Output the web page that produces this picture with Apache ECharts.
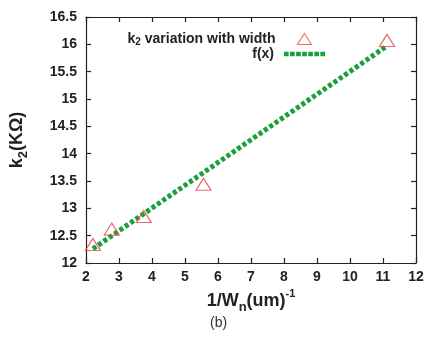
<!DOCTYPE html>
<html><head><meta charset="utf-8">
<script src="https://cdn.jsdelivr.net/npm/echarts@6/dist/echarts.min.js"></script>
<style>html,body{margin:0;padding:0;background:#fff}#c{width:434px;height:341px}</style>
</head><body><div id="c"></div>
<script>
const measX = [2.21, 2.78, 3.75, 5.56, 11.12];
const measY = [12.34, 12.62, 12.85, 13.44, 16.07];
const fitX = [2.21, 11.12];
const fitY = [12.26, 15.97];
const xTicks = [2,3,4,5,6,7,8,9,10,11,12];
const yTicks = [12,12.5,13,13.5,14,14.5,15,15.5,16,16.5];

const FONT = '"Liberation Sans", Arial, sans-serif';
const GREEN = '#17a138';
const RED = '#e8474a';
const chart = echarts.init(document.getElementById('c'));
const tickCommon = {
  axisLine: {show: true, lineStyle: {color: '#222', width: 1.2}},
  axisTick: {show: true, inside: true, length: 5, lineStyle: {color: '#222', width: 1.2}},
  splitLine: {show: false}
};
const dotPath = 'path://' + [0,1,2,3,4,5,6].map(i => 'M' + (i*6) + ',0h4.6v4.6h-4.6z').join(' ');
const legText = {fontFamily: FONT, fontWeight: 'bold', fontSize: 14, color: '#222'};
chart.setOption({
  animation: false,
  grid: {left: 86, right: 18, top: 17, bottom: 78},
  legend: [{
    orient: 'vertical', align: 'right', right: 117, top: 27,
    itemWidth: 14, itemHeight: 11, icon: 'triangle',
    itemStyle: {color: 'rgba(0,0,0,0)', borderColor: RED, borderWidth: 1.1},
    textStyle: Object.assign({}, legText, {
      rich: {t: Object.assign({}, legText),
             e: Object.assign({}, legText, {padding: [0, 17, 0, 0]}),
             sub: {fontSize: 10, fontWeight: 'bold', fontFamily: FONT, color: '#222', padding: [6,0,0,0]}}}),
    formatter: () => '{t|k}{sub|2}{e| variation with width}',
    data: [{name: 'k2'}]
  }, {
    orient: 'vertical', align: 'right', right: 104, top: 42,
    itemWidth: 41, itemHeight: 5, icon: dotPath,
    textStyle: Object.assign({}, legText, {rich: {t: Object.assign({}, legText, {padding: [0, 5, 0, 0]})}}),
    formatter: () => '{t|f(x)}',
    data: [{name: 'f(x)'}]
  }],
  xAxis: [{
    type: 'value', min: 2, max: 12, interval: 1, position: 'bottom',
    name: '1/W{sub|n}(um){sup|-1}', nameLocation: 'middle', nameGap: 24,
    nameTextStyle: {fontFamily: FONT, fontWeight: 'bold', fontSize: 18, color: '#222',
      rich: {sub: {fontFamily: FONT, fontWeight: 'bold', fontSize: 13, color: '#222', padding: [12,0,0,0]},
             sup: {fontFamily: FONT, fontWeight: 'bold', fontSize: 11, color: '#222', padding: [0,0,14,0]}}},
    axisLabel: {fontFamily: FONT, fontWeight: 'bold', fontSize: 14, color: '#222', margin: 7,
      customValues: xTicks},
    ...tickCommon
  }, {
    type: 'value', min: 2, max: 12, interval: 1, position: 'top',
    axisLabel: {show: false}, ...tickCommon
  }],
  yAxis: [{
    type: 'value', min: 12, max: 16.5, interval: 0.5, position: 'left',
    name: 'k{sub|2}(KΩ)', nameLocation: 'middle', nameGap: 56, nameRotate: 90,
    nameTextStyle: {fontFamily: FONT, fontWeight: 'bold', fontSize: 18, color: '#222',
      rich: {sub: {fontFamily: FONT, fontWeight: 'bold', fontSize: 13, color: '#222', padding: [12,0,0,0]}}},
    axisLabel: {fontFamily: FONT, fontWeight: 'bold', fontSize: 14, color: '#222', margin: 9,
      customValues: yTicks, formatter: v => String(v)},
    ...tickCommon
  }, {
    type: 'value', min: 12, max: 16.5, interval: 0.5, position: 'right',
    axisLabel: {show: false}, ...tickCommon
  }],
  series: [{
    name: 'f(x)', type: 'line', xAxisIndex: 0, yAxisIndex: 0,
    data: fitX.map((x,i)=>[x, fitY[i]]),
    symbol: 'none', z: 2,
    lineStyle: {color: GREEN, width: 5, type: [4, 2.5]},
    itemStyle: {color: GREEN}
  }, {
    name: 'k2', type: 'scatter', xAxisIndex: 0, yAxisIndex: 0,
    data: measX.map((x,i)=>[x, measY[i]]),
    symbol: 'triangle', symbolSize: [15, 12], z: 3,
    itemStyle: {color: 'rgba(0,0,0,0)', borderColor: RED, borderWidth: 1.2}
  }],
  graphic: [{
    type: 'text', left: 210, top: 316,
    style: {text: '(b)', font: '14px ' + FONT, fill: '#333'}
  }]
});
</script></body></html>
